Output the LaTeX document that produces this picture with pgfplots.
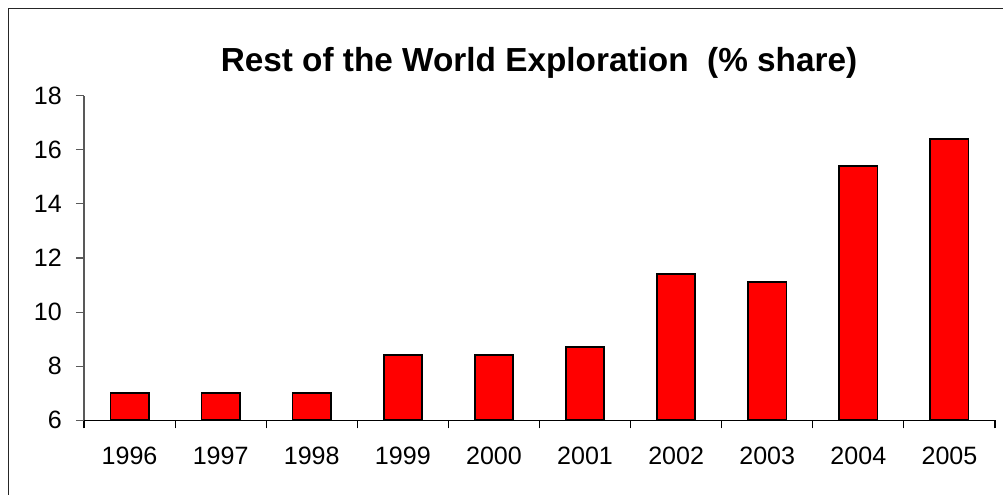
\documentclass[border=0pt]{standalone}
\usepackage{pgfplots}
\pgfplotsset{compat=1.18}
\usepackage{fontspec}
\setmainfont{Liberation Sans}
\begin{document}
\begin{tikzpicture}
\useasboundingbox (0,0) rectangle (752.25pt,-371.25pt);
% outer chart frame
\draw[line width=0.8pt, black!85] (6.4pt,-371.25pt) -- (6.4pt,-6.4pt) -- (752.25pt,-6.4pt);
\begin{axis}[
  at={(63pt,-315.2pt)}, anchor=south west,
  width=683.25pt, height=243.45pt, scale only axis,
  xmin=-0.5, xmax=9.5, ymin=6, ymax=18,
  axis x line*=bottom, axis y line*=left,
  x axis line style={-, black, line width=0.8pt},
  y axis line style={-, black!65, line width=0.8pt},
  tick align=outside,
  major tick length=6pt, minor tick length=6pt,
  ytick={6,8,...,18},
  xtick={0,...,9},
  xticklabels={1996,1997,1998,1999,2000,2001,2002,2003,2004,2005},
  minor xtick={-0.5,0.5,...,9.5},
  major x tick style={draw=none},
  minor x tick style={black, line width=0.8pt},
  ytick style={black!65, line width=0.8pt},
  /pgf/number format/assume math mode=true,
  tick label style={font=\fontsize{18.8}{20}\selectfont},
  yticklabel style={anchor=east, inner sep=0pt, xshift=-10.5pt},
  xticklabel style={anchor=north, inner sep=0pt, yshift=-14pt},
  clip=true,
]
\addplot[ybar, bar width=28.7pt, fill=red, draw=black, line width=1.3pt]
  coordinates {(0,7.0) (1,7.0) (2,7.0) (3,8.4) (4,8.4) (5,8.7) (6,11.4) (7,11.1) (8,15.4) (9,16.4)};
\end{axis}
\node[anchor=base, font=\fontsize{25}{28}\selectfont\bfseries] at (404.25pt,-54pt)
  {Rest of the World Exploration\ \ (\% share)};
\end{tikzpicture}
\end{document}
